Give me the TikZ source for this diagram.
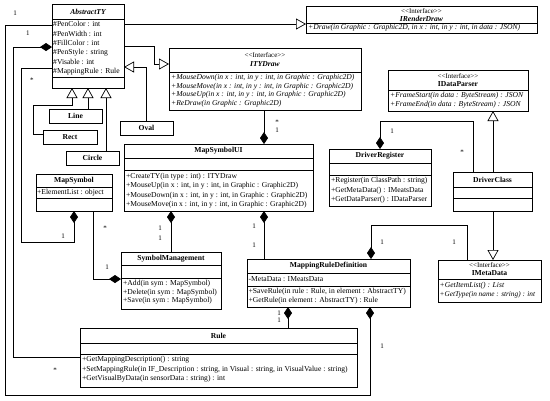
\documentclass[tikz,border=0pt]{standalone}
\usepackage{fontspec}
\setmainfont{Liberation Serif}
\usetikzlibrary{arrows.meta}
\newcommand\cbox[5]{\node[cls, minimum width={(#4-#2)*1pt}, minimum height={(#5-#3)*1pt}] (#1) at (#2,#3) {};}
\newcommand\csep[2]{\draw[line width=0.9pt] (#1.west |- 0,#2) -- (#1.east |- 0,#2);}
\begin{document}
\begin{tikzpicture}[x=1pt,y=-1pt,
  cls/.style={draw, line width=0.9pt, inner sep=0pt, outer sep=0pt, anchor=north west},
  conn/.style={line width=0.7pt},
  dia/.style={-{Diamond[length=12pt,width=8pt]}},
  tri/.style={-{Triangle[open,length=10pt,width=11pt]}},
  nm/.style={font=\fontsize{7.6}{8}\selectfont\bfseries, inner sep=0pt},
  nmi/.style={font=\fontsize{7.6}{8}\selectfont\bfseries\itshape, inner sep=0pt},
  st/.style={font=\fontsize{7}{8}\selectfont, inner sep=0pt},
  txt/.style={font=\fontsize{7.6}{8}\selectfont, inner sep=0pt, anchor=west},
  txi/.style={font=\fontsize{7.6}{8}\selectfont\itshape, inner sep=0pt, anchor=west},
  mul/.style={font=\fontsize{7}{7}\selectfont, inner sep=0pt}
]
\useasboundingbox (0,0) rectangle (550,400);

% ---------- AbstractTY ----------
\cbox{abs}{52}{4}{124}{88}
\csep{abs}{19}\csep{abs}{77}
\node[nmi] at (abs.north |- 0,11.5) {AbstractTY};
\node[txt] (a1) at (53,24) {\#PenColor : int};
\node[txt] (a2) at (53,33.5) {\#PenWidth : int};
\node[txt] (a3) at (53,43) {\#FillColor : int};
\node[txt] (a4) at (53,52.5) {\#PenStyle : string};
\node[txt] (a5) at (53,62) {\#Visable : int};
\node[txt] (a6) at (53,71.5) {\#MappingRule : Rule};

% ---------- subclasses ----------
\cbox{line}{49}{109}{102}{123}
\node[nm] at (line.center) {Line};
\cbox{rect}{43}{130}{97}{144}
\node[nm] at (rect.center) {Rect};
\cbox{oval}{120}{121}{173}{135}
\node[nm] at (oval.center) {Oval};
\cbox{circ}{66}{151}{119}{165}
\node[nm] at (circ.center) {Circle};

% ---------- IRenderDraw ----------
\cbox{ird}{306}{6}{537}{33}
\csep{ird}{23}
\node[st] at (ird.north |- 0,11) {<{}<Interface>{}>};
\node[nmi] at (ird.north |- 0,18.5) {IRenderDraw};
\node[txi] at (308,28) {+Draw(in Graphic : Graphic2D, in x : int, in y : int, in data : JSON)};

% ---------- ITYDraw ----------
\cbox{ityd}{169}{48}{361}{110}
\csep{ityd}{72}
\node[st] at (ityd.north |- 0,55.5) {<{}<Interface>{}>};
\node[nmi] at (ityd.north |- 0,64) {ITYDraw};
\node[txi] at (171,78) {+MouseDown(in x : int, in y : int, in Graphic : Graphic2D)};
\node[txi] at (171,86.5) {+MouseMove(in x : int, in y : int, in Graphic : Graphic2D)};
\node[txi] at (171,95) {+MouseUp(in x : int, in y : int, in Graphic : Graphic2D)};
\node[txi] at (171,103.5) {+ReDraw(in Graphic : Graphic2D)};

% ---------- IDataParser ----------
\cbox{idp}{388}{70}{528}{111}
\csep{idp}{90}
\node[st] at (idp.north |- 0,76) {<{}<Interface>{}>};
\node[nm] at (idp.north |- 0,84) {IDataParser};
\node[txi] at (390,96) {+FrameStart(in data : ByteStream) : JSON};
\node[txi] at (390,104.5) {+FrameEnd(in data : ByteStream) : JSON};

% ---------- DriverRegister ----------
\cbox{dr}{329}{149}{431}{206}
\csep{dr}{163}\csep{dr}{175}
\node[nm] at (dr.north |- 0,156) {DriverRegister};
\node[txt] at (331,181) {+Register(in ClassPath : string)};
\node[txt] at (331,190.5) {+GetMetaData() : IMeatsData};
\node[txt] at (331,200) {+GetDataParser() : IDataParser};

% ---------- DriverClass ----------
\cbox{dc}{453}{172}{532}{211}
\csep{dc}{187}\csep{dc}{198}
\node[nm] at (dc.north |- 0,179.5) {DriverClass};

% ---------- MapSymbolUI ----------
\cbox{msui}{124}{144}{313}{211}
\csep{msui}{158}\csep{msui}{170}
\node[nm] at (msui.north |- 0,151) {MapSymbolUI};
\node[txt] at (126,176.5) {+CreateTY(in type : int) : ITYDraw};
\node[txt] at (126,186) {+MouseUp(in x : int, in y : int, in Graphic : Graphic2D)};
\node[txt] at (126,195.5) {+MouseDown(in x : int, in y : int, in Graphic : Graphic2D)};
\node[txt] at (126,205) {+MouseMove(in x : int, in y : int, in Graphic : Graphic2D)};

% ---------- MapSymbol ----------
\cbox{msym}{36}{174}{112}{211}
\csep{msym}{187}\csep{msym}{198}
\node[nm] at (msym.north |- 0,180.5) {MapSymbol};
\node[txt] at (37,192.5) {+ElementList : object};

% ---------- SymbolManagement ----------
\cbox{sm}{121}{252}{221}{309}
\csep{sm}{265}\csep{sm}{278}
\node[nm] at (sm.north |- 0,258.5) {SymbolManagement};
\node[txt] at (123,284) {+Add(in sym : MapSymbol)};
\node[txt] at (123,292.5) {+Delete(in sym : MapSymbol)};
\node[txt] at (123,301) {+Save(in sym : MapSymbol)};

% ---------- MappingRuleDefinition ----------
\cbox{mrd}{247}{259}{410}{307}
\csep{mrd}{273}\csep{mrd}{286}
\node[nm] at (mrd.north |- 0,266) {MappingRuleDefinition};
\node[txt] at (248.5,279.5) {-MetaData : IMeatsData};
\node[txt] at (248.5,292) {+SaveRule(in rule : Rule, in element : AbstractTY)};
\node[txt] at (248.5,301) {+GetRule(in element : AbstractTY) : Rule};

% ---------- IMetaData ----------
\cbox{imd}{438}{260}{541}{302}
\csep{imd}{279}
\node[st] at (imd.north |- 0,265.5) {<{}<Interface>{}>};
\node[nm] at (imd.north |- 0,273) {IMetaData};
\node[txi] at (439.5,286) {+GetItemList() : List};
\node[txi, font=\fontsize{7.3}{8}\selectfont\itshape] at (439.5,295) {+GetType(in name : string) : int};

% ---------- Rule ----------
\cbox{rule}{80}{328}{357}{387}
\csep{rule}{343}\csep{rule}{354}
\node[nm] at (rule.north |- 0,336) {Rule};
\node[txt] at (82,360) {+GetMappingDescription() : string};
\node[txt] at (82,369.5) {+SetMappingRule(in IF\_Description : string, in Visual : string, in VisualValue : string)};
\node[txt] at (82,379) {+GetVisualByData(in sensorData : string) : int};

% ---------- connectors ----------
\draw[conn,tri] (abs.east |- 0,24) -- (ird.west |- 0,24);
\draw[conn,tri] (abs.east |- 0,46) -- (154,46) -- (154,64) -- (ityd.west |- 0,64);
\draw[conn,tri] (line.north -| 88,0) -- (abs.south -| 88,0);
\draw[conn,tri] (rect.west |- 0,134) -- (33,134) -- (33,105) -- (72,105) -- (abs.south -| 72,0);
\draw[conn,tri] (circ.north -| 106,0) -- (abs.south -| 106,0);
\draw[conn,tri] (oval.north -| 146,0) -- (146,67) -- (abs.east |- 0,67);

\draw[conn,dia] (abs.west |- 0,25) -- (5,25) -- (5,395) -- (370,395) -- (mrd.south -| 370,0);
\draw[conn,dia] (rule.west |- 0,357) -- (13,357) -- (13,47) -- (abs.west |- 0,47);
\draw[conn,dia] (abs.west |- 0,68) -- (21,68) -- (21,242) -- (74,242) -- (msym.south -| 74,0);

\draw[conn,dia] (ityd.south -| 264,0) -- (msui.north -| 264,0);
\draw[conn,dia] (sm.north -| 171,0) -- (msui.south -| 171,0);
\draw[conn,dia] (mrd.north -| 264,0) -- (msui.south -| 264,0);
\draw[conn,dia] (msym.south -| 93,0) -- (93,279) -- (sm.west |- 0,279);
\draw[conn,tri] (dc.north -| 493,0) -- (idp.south -| 493,0);
\draw[conn,tri] (dc.south -| 493,0) -- (imd.north -| 493,0);
\draw[conn,dia] (dc.north -| 473,0) -- (473,121) -- (380,121) -- (dr.north -| 380,0);
\draw[conn,dia] (imd.north -| 467,0) -- (467,225) -- (371,225) -- (mrd.north -| 371,0);
\draw[conn,dia] (rule.north -| 288,0) -- (mrd.south -| 288,0);

% ---------- multiplicities ----------
\node[mul] (m1) at (15,13) {1};
\node[mul] (m2) at (28,33) {1};
\node[mul] (m3) at (32,80) {*};
\node[mul] (m4) at (63,236) {1};
\node[mul] (m5) at (55,370) {*};
\node[mul] (m6) at (382,346) {1};
\node[mul] (m7) at (277,122) {*};
\node[mul] (m8) at (277,130) {1};
\node[mul] (m9) at (160,228) {1};
\node[mul] (m10) at (160,238) {1};
\node[mul] (m11) at (254,226) {1};
\node[mul] (m12) at (254,245) {1};
\node[mul] (m13) at (105,228) {*};
\node[mul] (m14) at (107,267) {1};
\node[mul] (m15) at (392,131) {1};
\node[mul] (m16) at (462,152) {*};
\node[mul] (m17) at (382,242) {1};
\node[mul] (m18) at (454,242) {1};
\node[mul] (m19) at (279,313) {1};
\node[mul] (m20) at (279,320) {1};
\end{tikzpicture}
\end{document}
